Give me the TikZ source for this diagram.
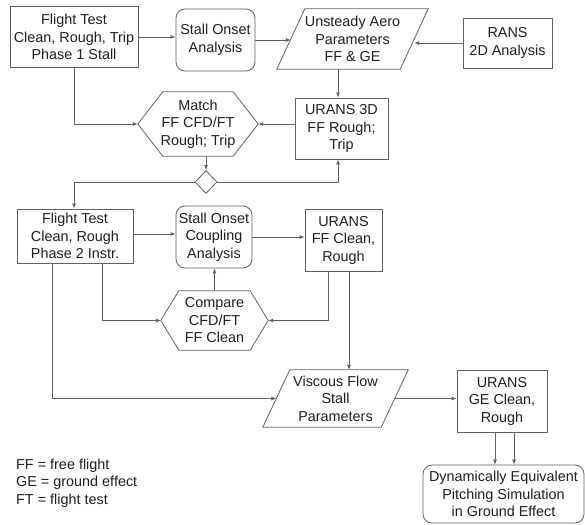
\documentclass[tikz,border=0pt]{standalone}
\usepackage{fontspec}
\setmainfont{Liberation Sans}
\usetikzlibrary{shapes.geometric,arrows.meta,calc}
\definecolor{linecol}{gray}{0.38}
\definecolor{txtcol}{gray}{0.12}
\begin{document}
\begin{tikzpicture}[x=1pt,y=-1pt,
  every node/.style={font=\fontsize{14.4}{17.5}\selectfont, text=txtcol, align=center, inner sep=0pt},
  box/.style={draw=linecol, line width=0.8pt, rectangle},
  rbox/.style={box, rounded corners=9pt},
  holder/.style={rectangle},
  outline/.style={draw=linecol, line width=0.8pt, line join=miter},
  arr/.style={draw=linecol, line width=0.8pt, -{Latex[length=5pt,width=4pt]}}]
\useasboundingbox (0,0) rectangle (585,524);

% nodes
\node[box, minimum width=128pt, minimum height=61pt] (FT1) at (74,37) {Flight Test\\Clean, Rough, Trip\\Phase 1 Stall};
\node[rbox, minimum width=79pt, minimum height=62pt] (SOA) at (215.5,40) {Stall Onset\\Analysis};
\node[holder, minimum width=151pt, minimum height=60pt] (UA) at (352.5,39) {Unsteady Aero\\Parameters\\FF \& GE};
\node[box, minimum width=89pt, minimum height=50pt] (RANS) at (507.5,43) {RANS\\2D Analysis};
\node[box, minimum width=93pt, minimum height=61pt] (U3D) at (341.5,128.5) {URANS 3D\\FF Rough;\\Trip};
\node[holder, minimum width=120pt, minimum height=64pt] (Match) at (198,124) {Match\\FF CFD/FT\\Rough; Trip};
\node[diamond, draw=linecol, line width=0.8pt, minimum width=22pt, minimum height=23pt] (D) at (206,182) {};
\node[box, minimum width=116pt, minimum height=54pt] (FT2) at (75,236) {Flight Test\\Clean, Rough\\Phase 2 Instr.};
\node[rbox, minimum width=76pt, minimum height=62pt] (SOC) at (214,237) {Stall Onset\\Coupling\\Analysis};
\node[box, minimum width=77pt, minimum height=62pt] (UFF) at (343.5,240) {URANS\\FF Clean,\\Rough};
\node[holder, minimum width=107pt, minimum height=59pt] (CMP) at (214.5,320.5) {Compare\\CFD/FT\\FF Clean};
\node[holder, minimum width=145pt, minimum height=57pt] (VF) at (335.5,398.5) {Viscous Flow\\Stall\\Parameters};
\node[box, minimum width=90pt, minimum height=62pt] (UGE) at (502,401) {URANS\\GE Clean,\\Rough};
\node[rbox, minimum width=161pt, minimum height=58pt] (DYN) at (503.5,494) {Dynamically Equivalent\\Pitching Simulation\\in Ground Effect};
\node[anchor=west, align=left] (LEG) at (16,483) {FF = free flight\\GE = ground effect\\FT = flight test};

% parallelogram and hexagon outlines
\draw[outline] ([xshift=28pt]UA.north west) -- (UA.north east) -- ([xshift=-28pt]UA.south east) -- (UA.south west) -- cycle;
\draw[outline] ([xshift=27pt]VF.north west) -- (VF.north east) -- ([xshift=-27pt]VF.south east) -- (VF.south west) -- cycle;
\draw[outline] (Match.west) -- ([xshift=25pt]Match.north west) -- ([xshift=-25pt]Match.north east) -- (Match.east) -- ([xshift=-25pt]Match.south east) -- ([xshift=25pt]Match.south west) -- cycle;
\draw[outline] (CMP.west) -- ([xshift=18pt]CMP.north west) -- ([xshift=-18pt]CMP.north east) -- (CMP.east) -- ([xshift=-18pt]CMP.south east) -- ([xshift=18pt]CMP.south west) -- cycle;

\coordinate (UAl) at ($(UA.south west)!0.5!([xshift=28pt]UA.north west)$);
\coordinate (UAr) at ($(UA.north east)!0.5!([xshift=-28pt]UA.south east)$);
\coordinate (VFl) at ($(VF.south west)!0.5!([xshift=27pt]VF.north west)$);
\coordinate (VFr) at ($(VF.north east)!0.5!([xshift=-27pt]VF.south east)$);

% connectors
\draw[arr] (FT1.east) -- (FT1.east -| SOA.west);
\draw[arr] (SOA.east) -- (SOA.east -| UAl);
\draw[arr] (RANS.west) -- (RANS.west -| UAr);
\draw[arr] ([xshift=-3.5pt]U3D.north |- UA.south) -- ([xshift=-3.5pt]U3D.north);
\draw[arr] (FT1.south) |- (Match.west);
\draw[arr] (U3D.west |- Match.east) -- (Match.east);
\draw[arr] (D.north |- Match.south) -- (D.north);
\draw[arr] (D.west) -| ([xshift=-1pt]FT2.north);
\draw[arr] (D.east) -| ([xshift=-3.5pt]U3D.south);
\draw[arr] ([yshift=2pt]FT2.east) -- ([yshift=2pt]FT2.east -| SOC.west);
\draw[arr] (SOC.east) -- (SOC.east -| UFF.west);
\draw[arr] ([xshift=27pt]FT2.south) |- (CMP.west);
\draw[arr] (CMP.north) -- (CMP.north |- SOC.south);
\draw[arr] ([xshift=-15.5pt]UFF.south) |- (CMP.east);
\draw[arr] ([xshift=5.5pt]UFF.south) -- ([xshift=5.5pt]UFF.south |- VF.north);
\draw[arr] ([xshift=-23pt]FT2.south) |- (VFl);
\draw[arr] (VFr) -- (VFr -| UGE.west);
\draw[arr] ([xshift=-7pt]UGE.south) -- ([xshift=-7pt]UGE.south |- DYN.north);
\draw[arr] ([xshift=12pt]UGE.south) -- ([xshift=12pt]UGE.south |- DYN.north);
\end{tikzpicture}
\end{document}
